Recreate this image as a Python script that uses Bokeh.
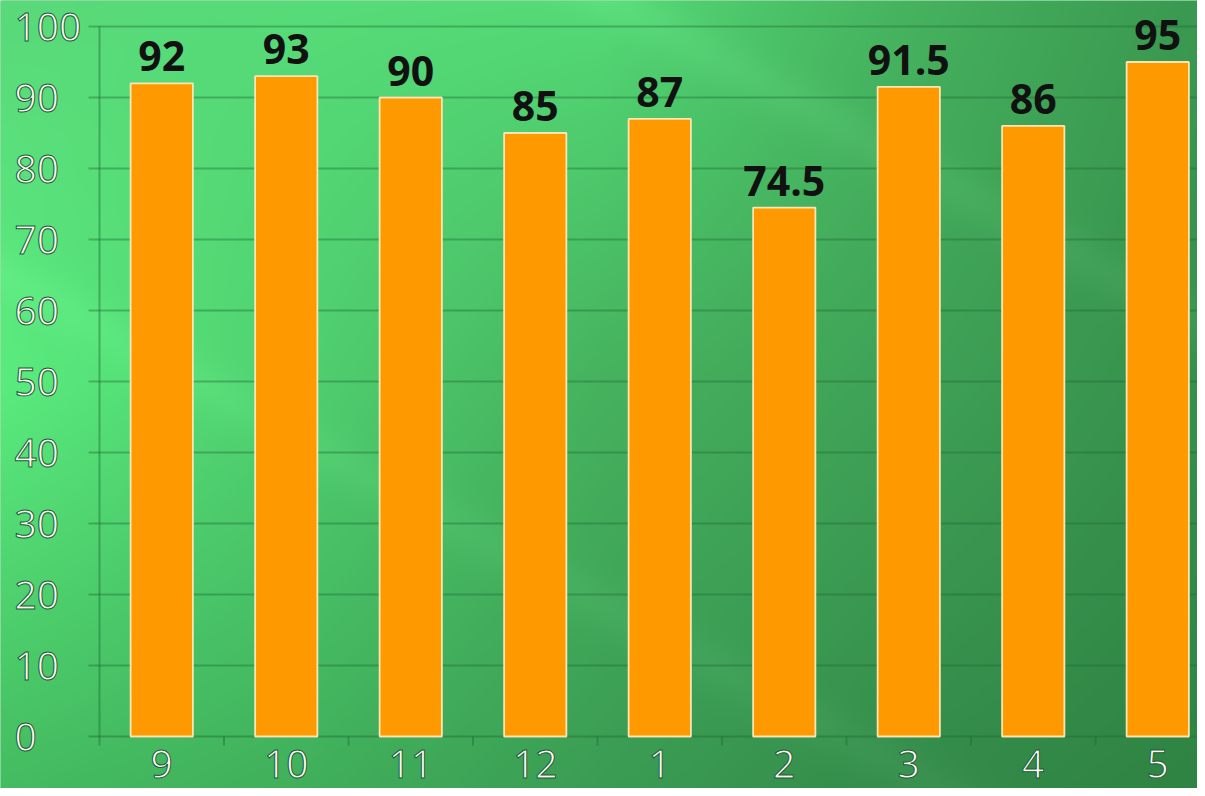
import numpy as np
from bokeh.plotting import figure
from bokeh.models import Range1d
from bokeh.core.properties import value
from bokeh.embed import file_html
from bokeh.resources import INLINE

# ---- data ----
months = ["9", "10", "11", "12", "1", "2", "3", "4", "5"]
scores = [92, 93, 90, 85, 87, 74.5, 91.5, 86, 95]
score_labels = ["92", "93", "90", "85", "87", "74.5", "91.5", "86", "95"]
y_ticks = [0, 10, 20, 30, 40, 50, 60, 70, 80, 90, 100]
y_tick_labels = [str(t) for t in y_ticks]

# ---- layout ----
W, H = 1197, 788
CAT_PX = 124.5      # pixels per category
UNIT_PX = 7.1       # pixels per value unit
AXIS_X_PX = 99      # axis position from left of canvas
ZERO_Y_PX = 736     # zero line from top of canvas

x_start = -0.5 - AXIS_X_PX / CAT_PX
x_end = x_start + W / CAT_PX
y_end = ZERO_Y_PX / UNIT_PX
y_start = y_end - H / UNIT_PX

p = figure(width=W, height=H,
           x_range=Range1d(x_start, x_end), y_range=Range1d(y_start, y_end),
           output_backend="svg", toolbar_location=None,
           x_axis_location=None, y_axis_location=None,
           min_border=0)
p.grid.visible = False
p.outline_line_color = None
p.background_fill_color = "#46b862"
p.border_fill_color = "#46b862"

# ---- background gradient (styling) ----
nx, ny = 600, 394
gx = np.array([0, 300, 600, 900, 1205], dtype=float)
gy = np.array([0, 380, 796], dtype=float)
ctrl_hex = [
    ["#5ad97a", "#56dc78", "#54da76", "#46b45f", "#3a9850"],
    ["#5aec7e", "#50d070", "#46b25e", "#3fa257", "#36904b"],
    ["#44bb60", "#40af5b", "#3a9c53", "#348b4a", "#2f8343"],
]
ctrl = np.array([[[int(h[i:i + 2], 16) for i in (1, 3, 5)] for h in row] for row in ctrl_hex], dtype=float)
xs = np.linspace(0, W, nx)
ys = np.linspace(0, H, ny)
rows = np.stack([np.stack([np.interp(xs, gx, ctrl[r, :, c]) for c in range(3)], axis=-1) for r in range(len(gy))])
img = np.zeros((ny, nx, 3))
for c in range(3):
    for j in range(nx):
        img[:, j, c] = np.interp(ys, gy, rows[:, j, c])
# subtle diagonal light streaks
X, Y = np.meshgrid(xs, ys)
for (cx, cy, amp, wid) in [(230, 400, 6, 25), (960, 190, 7, 25)]:
    d = ((Y - cy) - 0.55 * (X - cx)) / np.sqrt(1 + 0.55 ** 2)
    img += amp * np.exp(-(d / wid) ** 2)[..., None]
img = np.clip(img, 0, 255).astype(np.uint32)
img = img[::-1]
rgba = (255 << 24) | (img[..., 2] << 16) | (img[..., 1] << 8) | img[..., 0]
rgba = rgba.astype(np.uint32)
p.image_rgba(image=[rgba], x=x_start, y=y_start, dw=x_end - x_start, dh=y_end - y_start)

# ---- grid & axes ----
grid_left = -0.5 - 11 / CAT_PX
line_col = "#1e6a34"
p.segment(x0=grid_left, y0=y_ticks[1:], x1=x_end, y1=y_ticks[1:],
          line_color=line_col, line_alpha=0.4, line_width=2)
p.segment(x0=grid_left, y0=0, x1=x_end, y1=0, line_color=line_col, line_alpha=0.45, line_width=2)
p.segment(x0=-0.5, y0=0, x1=-0.5, y1=max(y_ticks), line_color=line_col, line_alpha=0.45, line_width=2)
bounds = list(np.arange(len(months) + 1) - 0.5)
p.segment(x0=bounds, y0=0, x1=bounds, y1=-9 / UNIT_PX, line_color=line_col, line_alpha=0.45, line_width=2)

# ---- bars ----
idx = list(range(len(months)))
p.vbar(x=idx, top=scores, bottom=0, width=0.5,
       fill_color="#ff9900", line_color="#f8e6b4", line_width=1.8)

# ---- labels ----
p.text(x=idx, y=scores, text=score_labels, text_align="center", text_baseline="middle",
       y_offset=-27, text_font=value("Open Sans"), text_font_style="bold",
       text_font_size="41px", text_color="#111111")

p.text(x=[x_start] * len(y_ticks), y=y_ticks, text=y_tick_labels, x_offset=14,
       text_align="left", text_baseline="middle", text_font=value("Open Sans"),
       text_font_size="39px", text_color="#fafdfa",
       text_outline_color="#1f5a2f")

p.text(x=idx, y=[0] * len(months), text=months, y_offset=27,
       text_align="center", text_baseline="middle", text_font=value("Open Sans"),
       text_font_size="39px", text_color="#fafdfa",
       text_outline_color="#1f5a2f")

open("out.html", "w").write(file_html(p, INLINE))
